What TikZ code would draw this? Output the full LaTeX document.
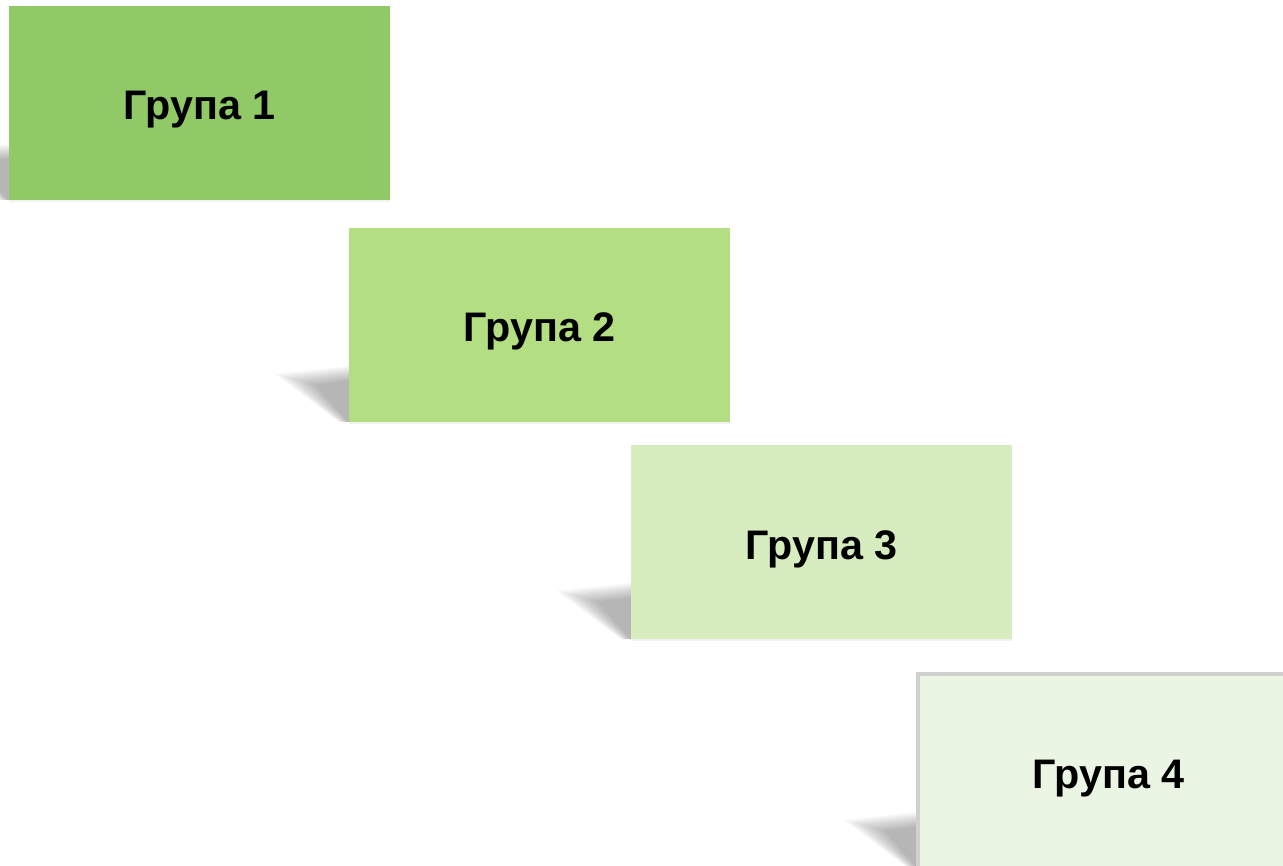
\documentclass[tikz,border=0pt]{standalone}
\usepackage{fontspec}
\setmainfont{Liberation Sans}
\usetikzlibrary{calc}
\definecolor{gA}{RGB}{146,201,103}
\definecolor{gB}{RGB}{179,222,130}
\definecolor{gC}{RGB}{215,237,192}
\definecolor{gD}{RGB}{235,245,228}
\definecolor{bordD}{RGB}{208,208,208}
\tikzset{
  grpbox/.style={minimum width=381pt, minimum height=194pt, inner sep=0pt, outer sep=0pt},
  grptext/.style={anchor=base, inner sep=0pt,
    font=\fontsize{41.3pt}{46pt}\selectfont\bfseries, text=black},
}
\newcommand{\wedgeshadow}[1]{%
  \foreach \k in {0,...,9}{
    \fill[black, opacity=0.032]
      ($(#1.south west)+(0,-56+\k*1.6)$) --
      ($(#1.south west)+(-74+\k*4.5,-48+\k*1.2)$) --
      ($(#1.south west)+(-10+\k*1,0)$) --
      ($(#1.south west)+(0,0)$) -- cycle;
  }%
  \fill[black, opacity=0.05] ($(#1.south west)+(0,0)$) rectangle ($(#1.south east)+(0,2)$);
}
\begin{document}
\begin{tikzpicture}[x=1pt,y=-1pt]
\useasboundingbox (0,0) rectangle (1283,866);
\fill[white] (0,0) rectangle (1283,866);
\clip (0,0) rectangle (1283,866);
\path (199.5,103) node[grpbox] (g1) {};
\path (539.5,325) node[grpbox] (g2) {};
\path (821.5,542) node[grpbox] (g3) {};
\path (1108.5,771) node[grpbox] (g4) {};
\wedgeshadow{g1}
\wedgeshadow{g2}
\wedgeshadow{g3}
\wedgeshadow{g4}
\node[grpbox, fill=gA] at (g1) {};
\node[grpbox, fill=gB] at (g2) {};
\node[grpbox, fill=gC] at (g3) {};
\node[grpbox, fill=gD, draw=bordD, line width=4pt, minimum width=440pt,
  minimum height=240pt, anchor=north west] (g4b) at (g4.north west) {};
\node[grptext] (t1) at ($(g1.center)+(0,17)$) {Група 1};
\node[grptext] (t2) at ($(g2.center)+(0,17)$) {Група 2};
\node[grptext] (t3) at ($(g3.center)+(0,17)$) {Група 3};
\node[grptext] (t4) at ($(g4.center)+(0,17)$) {Група 4};
\end{tikzpicture}
\end{document}
